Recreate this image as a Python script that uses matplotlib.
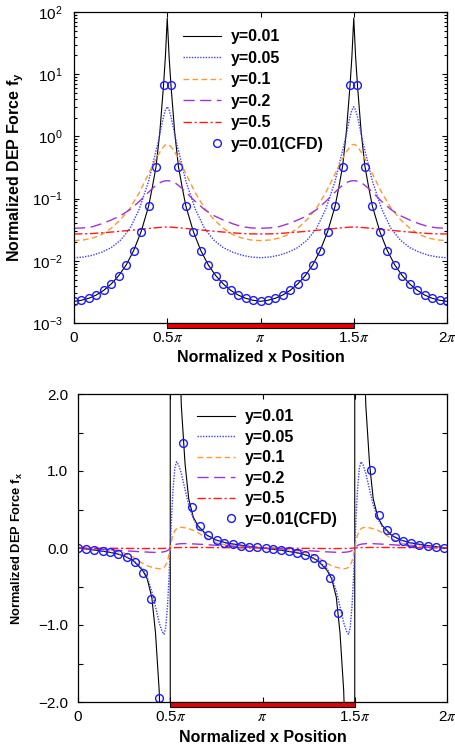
import numpy as np
import matplotlib
matplotlib.use('Agg')
import matplotlib.pyplot as plt
import matplotlib.transforms as mtransforms
from matplotlib.legend_handler import HandlerLine2D
from matplotlib.patches import Rectangle
from matplotlib.ticker import FixedLocator, LogLocator, NullFormatter

plt.rcParams['font.family'] = 'Liberation Sans'
plt.rcParams['mathtext.fontset'] = 'stix'

pi = np.pi

# x positions below are in units of pi
# ---------- top panel: f_y, read over 0..0.5pi (curves mirror about 0.5pi, period pi)
xq = [0, 0.05, 0.1, 0.15, 0.2, 0.25, 0.3, 0.35, 0.4, 0.425, 0.45, 0.47, 0.48, 0.49, 0.5]
fy_005 = [0.0112, 0.0115, 0.0123, 0.0138, 0.0163, 0.0215, 0.033, 0.068, 0.19, 0.39, 0.78, 1.5, 2.07, 2.65, 3.0]
fy_01 = [0.0211, 0.0216, 0.0232, 0.0265, 0.0335, 0.046, 0.07, 0.125, 0.25, 0.36, 0.5, 0.62, 0.68, 0.73, 0.745]
fy_02 = [0.0333, 0.0338, 0.0354, 0.0395, 0.0453, 0.0532, 0.0665, 0.09, 0.127, 0.15, 0.172, 0.186, 0.19, 0.193, 0.194]
fy_05 = [0.0270, 0.0271, 0.0275, 0.0282, 0.029, 0.0299, 0.0309, 0.0319, 0.0331, 0.0337, 0.0342, 0.0346, 0.0348, 0.0349, 0.0349]

xq_k = [0, 0.04, 0.08, 0.12, 0.16, 0.2, 0.24, 0.28, 0.32, 0.36, 0.4, 0.42, 0.44, 0.46, 0.48, 0.49, 0.5]
fy_001 = [0.00223, 0.00232, 0.0025, 0.00282, 0.00336, 0.00425, 0.00578, 0.00858, 0.0146, 0.0295,
          0.0755, 0.152, 0.328, 1.15, 6.6, 19, 80]

cfd_x_top = [0.00, 0.04, 0.08, 0.12, 0.16, 0.20, 0.24, 0.28, 0.32, 0.36, 0.40, 0.44, 0.48,
             0.52, 0.56, 0.60, 0.64, 0.68, 0.72, 0.76, 0.80, 0.84, 0.88, 0.92, 0.96, 1.00,
             1.04, 1.08, 1.12, 1.16, 1.20, 1.24, 1.28, 1.32, 1.36, 1.40, 1.44, 1.48,
             1.52, 1.56, 1.60, 1.64, 1.68, 1.72, 1.76, 1.80, 1.84, 1.88, 1.92, 1.96, 2.00]
cfd_fy = [0.00223, 0.00232, 0.0025, 0.00282, 0.00336, 0.00425, 0.00578, 0.00858, 0.0146, 0.0295, 0.0755, 0.328, 6.6,
          6.6, 0.328, 0.0755, 0.0295, 0.0146, 0.00858, 0.00578, 0.00425, 0.00336, 0.00282, 0.0025, 0.00232, 0.00223,
          0.00232, 0.0025, 0.00282, 0.00336, 0.00425, 0.00578, 0.00858, 0.0146, 0.0295, 0.0755, 0.328, 6.6,
          6.6, 0.328, 0.0755, 0.0295, 0.0146, 0.00858, 0.00578, 0.00425, 0.00336, 0.00282, 0.0025, 0.00232, 0.00223]

# ---------- bottom panel: f_x, read over 0..0.5pi (curves odd about 0.5pi, period pi)
xb = [0, 0.05, 0.1, 0.15, 0.2, 0.25, 0.3, 0.35, 0.375, 0.4, 0.42, 0.44, 0.455, 0.466, 0.475, 0.485, 0.493, 0.5]
fx_001 = [0, -0.015, -0.03, -0.048, -0.068, -0.103, -0.165, -0.29, -0.4, -0.64, -1.1, -1.85, -3.0, -4.5, -6.5, -12, -25, -80]
fx_005 = [0, -0.013, -0.028, -0.046, -0.066, -0.1, -0.16, -0.27, -0.38, -0.56, -0.76, -0.97, -1.08, -1.12, -1.04, -0.76, -0.4, 0]
fx_01 = [0, -0.006, -0.014, -0.025, -0.04, -0.066, -0.12, -0.2, -0.23, -0.25, -0.262, -0.27, -0.265, -0.25, -0.225, -0.17, -0.09, 0]
fx_02 = [0, -0.005, -0.011, -0.019, -0.027, -0.035, -0.043, -0.05, -0.053, -0.056, -0.057, -0.056, -0.053, -0.049, -0.044, -0.033, -0.018, 0]
fx_05 = [0, -0.001, -0.002, -0.003, -0.004, -0.005, -0.006, -0.007, -0.007, -0.007, -0.007, -0.006, -0.006, -0.005, -0.004, -0.003, -0.002, 0]

cfd_x_bot = [0, 0.045, 0.088, 0.134, 0.175, 0.218, 0.264, 0.309, 0.354, 0.397, 0.441,
             0.571, 0.618, 0.661, 0.706, 0.752, 0.793, 0.838, 0.881, 0.927, 0.972,
             1.017, 1.057, 1.100, 1.144, 1.189, 1.232, 1.277, 1.321, 1.366, 1.411,
             1.586, 1.631, 1.673, 1.716, 1.760, 1.805, 1.850, 1.895, 1.940, 1.984]
cfd_fx = [0.0, -0.013, -0.026, -0.044, -0.057, -0.083, -0.117, -0.187, -0.321, -0.663, -1.948,
          1.364, 0.527, 0.281, 0.164, 0.104, 0.069, 0.047, 0.030, 0.017, 0.009,
          -0.003, -0.013, -0.022, -0.044, -0.061, -0.087, -0.130, -0.212, -0.390, -0.844,
          1.008, 0.432, 0.238, 0.147, 0.095, 0.065, 0.043, 0.030, 0.017, 0.004]

labels = ['y=0.01', 'y=0.05', 'y=0.1', 'y=0.2', 'y=0.5', 'y=0.01(CFD)']
electrode = [0.5, 1.5]
xtick_pos = [0, 0.5, 1, 1.5, 2]
xtick_lbl = ['0', '0.5$\\pi$', '$\\pi$', '1.5$\\pi$', '2$\\pi$']

styles = [dict(color='k', lw=0.8, ls='-'),
          dict(color='#3f3fff', lw=1.0, ls=(0, (1, 1))),
          dict(color='#ff9a2e', lw=1.0, ls=(0, (4, 2.5))),
          dict(color='#a033d6', lw=1.0, ls=(0, (8, 4))),
          dict(color='#ff1a1a', lw=1.0, ls=(0, (6, 2, 1.5, 2)))]
cfd_style = dict(ls='none', marker='o', ms=5.6, mfc='none', mec='#1a1aff', mew=1.0)


def unfold(xh, yh, odd=False):
    xh = np.asarray(xh, float)
    yh = np.asarray(yh, float)
    s = -1 if odd else 1
    x1 = np.concatenate([xh, 1 - xh[::-1]])
    y1 = np.concatenate([yh, s * yh[::-1]])
    return np.concatenate([x1, 1 + x1]) * pi, np.concatenate([y1, y1])


class RightMarker(HandlerLine2D):
    # legend marker sits at the right end of the handle, like the original
    def get_numpoints(self, legend):
        return 2

    def get_xdata(self, legend, xdescent, ydescent, width, height, fontsize):
        xr = -xdescent + width - 0.25 * fontsize
        return [xr], [xr]


def dress(ax, ypad):
    ax.set_xlim(0, 2 * pi)
    ax.xaxis.set_major_locator(FixedLocator([p * pi for p in xtick_pos]))
    ax.set_xticklabels(xtick_lbl)
    ax.tick_params(which='both', direction='in', top=True, right=True, labelsize=11, width=0.8)
    ax.tick_params(axis='x', which='major', length=3.5, pad=5.5)
    ax.tick_params(axis='y', which='major', length=3.5, pad=ypad)
    ax.tick_params(which='minor', length=2.2)
    for sp in ax.spines.values():
        sp.set_linewidth(0.9)
    trans = mtransforms.blended_transform_factory(ax.transData, ax.transAxes)
    ax.add_patch(Rectangle((electrode[0] * pi, -0.015), (electrode[1] - electrode[0]) * pi, 0.015,
                           transform=trans, clip_on=False, facecolor='#e80000', edgecolor='k', lw=0.8, zorder=5))
    ax.set_xlabel('Normalized x Position', fontsize=11.5, fontweight='bold')


fig = plt.figure(figsize=(4.56, 7.49), dpi=100)

# ---- top
ax1 = fig.add_axes([74 / 456, (749 - 323) / 749, 373 / 456, 311 / 749])
handles = []
for yv, xs, st, lab in zip([fy_001, fy_005, fy_01, fy_02, fy_05], [xq_k, xq, xq, xq, xq], styles, labels):
    x, y = unfold(xs, yv)
    h, = ax1.plot(x, y, label=lab, **st)
    handles.append(h)
hc, = ax1.plot(np.array(cfd_x_top) * pi, cfd_fy, label=labels[5], **cfd_style)
handles.append(hc)
ax1.set_yscale('log')
ax1.set_ylim(1e-3, 1e2)
ax1.yaxis.set_major_locator(LogLocator(base=10, numticks=10))
ax1.yaxis.set_minor_locator(LogLocator(base=10, subs=np.arange(2, 10), numticks=20))
ax1.yaxis.set_minor_formatter(NullFormatter())
dress(ax1, 8)
ax1.set_ylabel('Normalized DEP Force $\\mathdefault{f_y}$', fontsize=11.5, fontweight='bold')
ax1.yaxis.set_label_coords(-0.128, 0.5)
ax1.xaxis.set_label_coords(0.5, -0.088)
ax1.legend(handles=handles, loc='upper left', bbox_to_anchor=(0.292, 0.945), frameon=False,
           prop={'weight': 'bold', 'size': 11.5}, handlelength=2.4, handletextpad=0.6,
           labelspacing=0.41, borderpad=0, borderaxespad=0,
           handler_map={hc: RightMarker()})

# ---- bottom
ax2 = fig.add_axes([78 / 456, (749 - 702) / 749, 369 / 456, 308 / 749])
handles = []
for yv, st, lab in zip([fx_001, fx_005, fx_01, fx_02, fx_05], styles, labels):
    x, y = unfold(xb, yv, odd=True)
    h, = ax2.plot(x, y, label=lab, **st)
    handles.append(h)
hc, = ax2.plot(np.array(cfd_x_bot) * pi, cfd_fx, label=labels[5], **cfd_style)
handles.append(hc)
ax2.set_ylim(-2, 2)
ax2.yaxis.set_major_locator(FixedLocator([-2, -1, 0, 1, 2]))
ax2.yaxis.set_minor_locator(FixedLocator([-1.5, -0.5, 0.5, 1.5]))
ax2.set_yticklabels(['\u22122.0', '\u22121.0', '0.0', '1.0', '2.0'])
dress(ax2, 7)
ax2.tick_params(axis='y', which='minor', length=3.5)
ax2.set_ylabel('Normalized DEP Force $\\mathdefault{f_x}$', fontsize=9.3, fontweight='bold')
ax2.yaxis.set_label_coords(-0.144, 0.5)
ax2.xaxis.set_label_coords(0.5, -0.09)
ax2.legend(handles=handles, loc='upper left', bbox_to_anchor=(0.3225, 0.95), frameon=False,
           prop={'weight': 'bold', 'size': 11.5}, handlelength=2.4, handletextpad=0.6,
           labelspacing=0.34, borderpad=0, borderaxespad=0,
           handler_map={hc: RightMarker()})

fig.savefig('out.png', dpi=100)
